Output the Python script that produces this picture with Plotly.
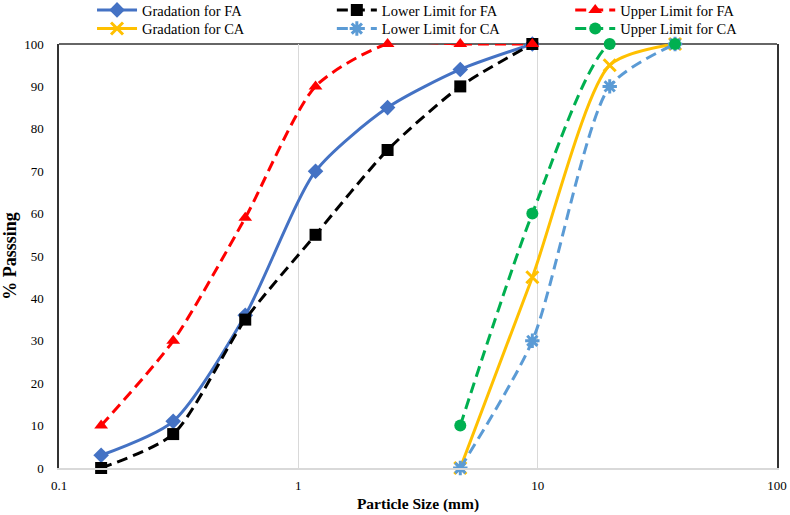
import plotly.graph_objects as go

fa_sizes = [0.15, 0.3, 0.6, 1.18, 2.36, 4.75, 9.5]
grad_fa = [3, 11, 36, 70, 85, 94, 100]
lower_fa = [0, 8, 35, 55, 75, 90, 100]
upper_fa = [10, 30, 59, 90, 100, 100, 100]

ca_sizes = [4.75, 9.5, 20, 37.5]
grad_ca = [0, 45, 95, 100]
lower_ca = [0, 30, 90, 100]
upper_ca = [10, 60, 100, 100]

x_ticks = [0.1, 1, 10, 100]
x_tick_labels = ["0.1", "1", "10", "100"]

FONT = "Liberation Serif, Times New Roman, serif"
DASH = "11px,6px"

# name, x, y, colour, dash, symbol, legend id, legend column x (paper), legend row y (paper)
series = [
    ("Gradation for FA", fa_sizes, grad_fa, "#4472C4", "solid", "diamond", "legend", 0.046, 1.118),
    ("Lower Limit for FA", fa_sizes, lower_fa, "#000000", DASH, "square", "legend2", 0.380, 1.118),
    ("Upper Limit for FA", fa_sizes, upper_fa, "#FF0000", DASH, "triangle-up", "legend3", 0.712, 1.118),
    ("Gradation for CA", ca_sizes, grad_ca, "#FFC000", "solid", "x", "legend4", 0.046, 1.074),
    ("Lower Limit for CA", ca_sizes, lower_ca, "#5B9BD5", DASH, "asterisk", "legend5", 0.380, 1.074),
    ("Upper Limit for CA", ca_sizes, upper_ca, "#00B050", DASH, "circle", "legend6", 0.712, 1.074),
]

fig = go.Figure()
legends = {}
for name, xs, ys, color, dash, sym, leg, lx, ly in series:
    marker = dict(symbol=sym, size=12, color=color)
    if sym == "asterisk":
        marker = dict(symbol="asterisk", size=12, color=color, line=dict(color=color, width=3))
    if sym == "x":
        marker = dict(symbol="x-thin", size=12, color=color, line=dict(color=color, width=3))
    fig.add_trace(go.Scatter(
        x=xs, y=ys, name=name, mode="lines+markers", legend=leg,
        line=dict(color=color, width=3, dash=dash, shape="spline", smoothing=0.7),
        marker=marker, cliponaxis=False,
    ))
    legends[leg] = dict(
        orientation="v", x=lx, xanchor="left", xref="paper",
        y=ly, yanchor="top", yref="paper",
        font=dict(family=FONT, size=14.5), bgcolor="rgba(0,0,0,0)",
        itemwidth=40,
    )

fig.update_layout(
    width=790, height=515,
    margin=dict(l=59, r=13, t=44, b=47, autoexpand=False),
    paper_bgcolor="white", plot_bgcolor="white",
    font=dict(family=FONT, size=14, color="#000000"),
    showlegend=True,
    xaxis=dict(
        type="log", range=[-1, 2], tickvals=x_ticks, ticktext=x_tick_labels,
        showgrid=True, gridcolor="#D9D9D9", gridwidth=1,
        showline=True, linecolor="#D9D9D9", linewidth=1.5,
        ticks="", zeroline=False, ticklabelstandoff=5,
        title=dict(text="<b>Particle Size (mm)</b>", font=dict(family=FONT, size=15.5), standoff=6),
        tickfont=dict(family=FONT, size=13),
    ),
    yaxis=dict(
        range=[0, 100], dtick=10, showgrid=False,
        showline=True, linecolor="#333333", linewidth=1.5, mirror=True,
        ticks="", zeroline=False, ticklabelstandoff=11,
        title=dict(text="<b>% Passsing</b>", font=dict(family=FONT, size=18), standoff=16),
        tickfont=dict(family=FONT, size=13),
    ),
    shapes=[dict(type="line", xref="paper", yref="paper", x0=0, x1=1, y0=1, y1=1,
                 line=dict(color="#333333", width=1.5), layer="below")],
)
fig.update_layout(**legends)

fig.write_html(
    "out.html",
    config={"displayModeBar": False},
    post_script="document.body.style.margin='0';document.body.style.overflow='hidden';",
)
